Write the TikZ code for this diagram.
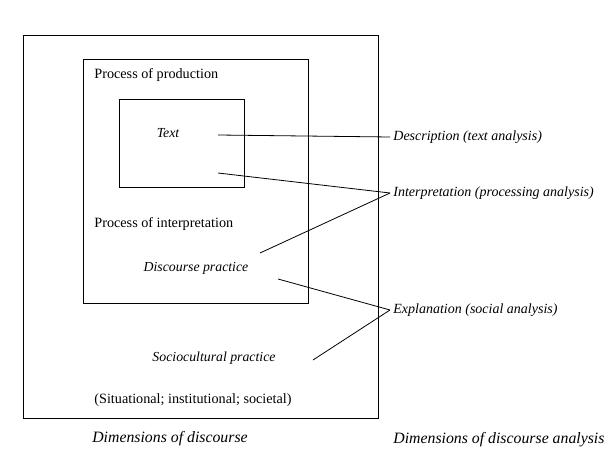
\documentclass[tikz,border=0pt]{standalone}
\usepackage{fontspec}
\setmainfont{Liberation Serif}
\usetikzlibrary{positioning}
\tikzset{frame node/.style={rectangle, draw, line width=0.8pt, inner sep=0pt},
  plain label/.style={anchor=west, inner sep=0pt, font=\fontsize{14.2}{16}\selectfont},
  level label/.style={inner sep=0pt, font=\fontsize{13.8}{16}\selectfont\itshape},
  analysis label/.style={anchor=west, inner xsep=3pt, inner ysep=0pt, font=\fontsize{14}{16}\selectfont\itshape},
  dim label/.style={inner xsep=3pt, inner ysep=0pt, font=\fontsize{15.8}{18}\selectfont\itshape},}

\begin{document}
\begin{tikzpicture}[x=1pt, y=-1pt, line width=0.8pt]
        \useasboundingbox (0,0) rectangle (605,452);
        % Frames
        \node[frame node, minimum width=355pt, minimum height=383pt] (socio) at (200.5,226.5) {};
        \node[frame node, minimum width=225pt, minimum height=244pt] (disc) at (195.5,181) {};
        \node[frame node, minimum width=125pt, minimum height=88pt] (txt) at (181.5,143) {};
        % Labels
        \node[plain label] (prod) at (94,75) {Process of production};
        \node[level label] (text) at (168,133) {Text};
        \node[plain label] (interp) at (94,224) {Process of interpretation};
        \node[level label] (dp) at (196,268) {Discourse practice};
        \node[level label] (sp) at (214,358) {Sociocultural practice};
        \node[plain label] (situ) at (94,400) {(Situational; institutional; societal)};
        \node[dim label] (dimd) at (170,439) {Dimensions of discourse};
        \node[dim label, anchor=west] (dima) at (390,440) {Dimensions of discourse analysis};
        % Analysis
        \node[analysis label] (desc) at (390,137) {Description (text analysis)};
        \node[analysis label] (proc) at (390,193) {Interpretation (processing analysis)};
        \node[analysis label] (expl) at (390,310) {Explanation (social analysis)};
        % Line ends
        \coordinate (e1) at (218,135);
        \coordinate (e2) at (218,173);
        \coordinate (e3) at (260,253);
        \coordinate (e4) at (278,279);
        \coordinate (e5) at (313,360);
        % Paths
        \path[-, draw]
        (e1) edge (desc.west)
        (e2) edge (proc.west)
        (e3) edge (proc.west)
        (e4) edge (expl.west)
        (e5) edge (expl.west);
    \end{tikzpicture}
\end{document}
